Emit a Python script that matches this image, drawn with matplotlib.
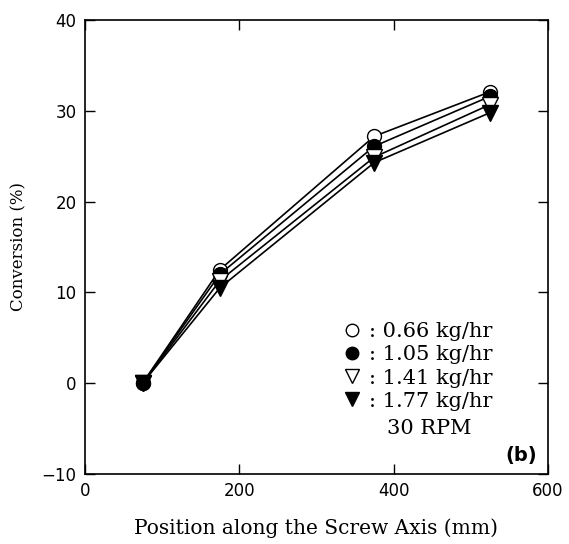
"""
Conversion vs. position along the screw axis (30 RPM, panel b)
"""
import matplotlib
matplotlib.use("Agg")
import matplotlib.pyplot as plt
from matplotlib.lines import Line2D

# data
position = [75, 175, 375, 525]
conv_066 = [0.0, 12.5, 27.2, 32.1]
conv_105 = [0.0, 12.0, 26.1, 31.6]
conv_141 = [0.0, 11.3, 24.9, 30.7]
conv_177 = [0.0, 10.5, 24.3, 29.8]
labels = [": 0.66 kg/hr", ": 1.05 kg/hr", ": 1.41 kg/hr", ": 1.77 kg/hr"]

series = [
    (conv_066, "o", "white"),
    (conv_105, "o", "black"),
    (conv_141, "v", "white"),
    (conv_177, "v", "black"),
]

serif = "DejaVu Serif"

fig = plt.figure(figsize=(5.69, 5.44), dpi=100)
ax = fig.add_axes([0.149, 0.129, 0.814, 0.834])

for ys, mk, fc in series:
    ax.plot(position, ys, color="black", lw=1.2, marker=mk, ms=10 if mk == "o" else 11,
            mfc=fc, mec="black", mew=1.0)

ax.set_xlim(0, 600)
ax.set_ylim(-10, 40)
ax.set_xticks([0, 200, 400, 600])
ax.set_yticks([-10, 0, 10, 20, 30, 40])
ax.set_yticklabels(["\u221210", "0", "10", "20", "30", "40"])
ax.tick_params(direction="in", length=7, width=1.0, top=True, right=True,
               labelsize=12, pad=6)
for sp in ax.spines.values():
    sp.set_linewidth(1.2)

ax.set_xlabel("Position along the Screw Axis (mm)", family=serif, fontsize=14.5, labelpad=13)
ax.set_ylabel("Conversion (%)", family=serif, fontsize=12, labelpad=10)

handles = [Line2D([], [], ls="none", marker=mk, ms=9 if mk == "o" else 10,
                  mfc=fc, mec="black", mew=1.0) for _, mk, fc in series]
leg = ax.legend(handles, labels, loc="upper left", bbox_to_anchor=(0.553, 0.334),
                frameon=False, prop={"family": serif, "size": 15},
                handletextpad=0.25, labelspacing=0.2, handlelength=1.1,
                borderaxespad=0, borderpad=0)
ax.text(0.652, 0.099, "30 RPM", transform=ax.transAxes, family=serif, fontsize=15,
        va="center")
ax.text(0.976, 0.04, "(b)", transform=ax.transAxes, fontsize=14, fontweight="bold",
        ha="right", va="center")

fig.savefig("out.png", dpi=100)
